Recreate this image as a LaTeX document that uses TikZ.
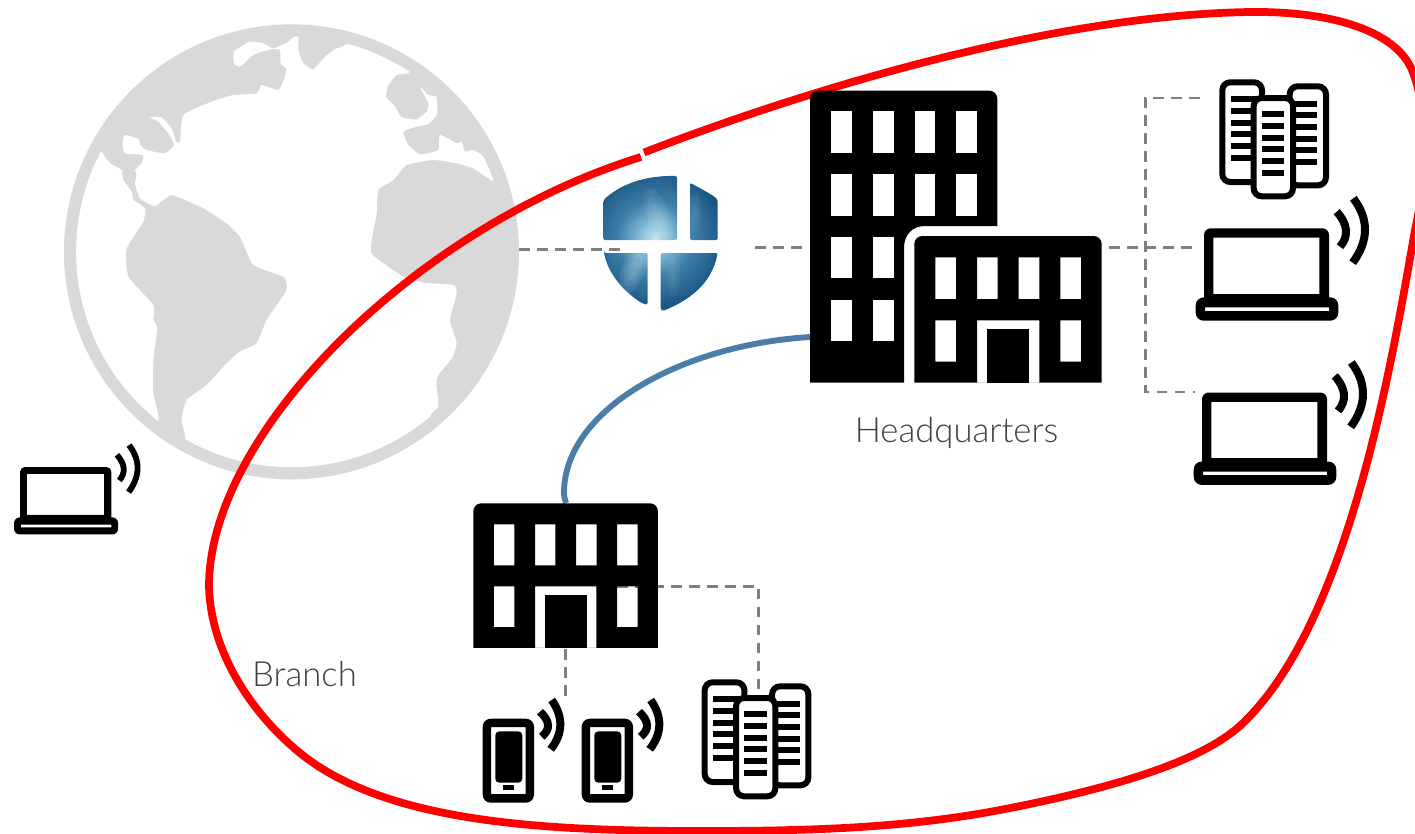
\documentclass[tikz,border=0pt]{standalone}
\usepackage{fontspec}
\setmainfont{Carlito}
\newfontfamily\lightfont{Lato Light}
\definecolor{globegray}{HTML}{D9D9D9}
\definecolor{dashgray}{HTML}{7F7F7F}
\definecolor{linkblue}{HTML}{4A7EA8}
\definecolor{labelgray}{HTML}{404040}
\definecolor{sA}{HTML}{C7E6EF}
\definecolor{sB}{HTML}{8FC4DC}
\definecolor{sC}{HTML}{3D7FA8}
\definecolor{sD}{HTML}{1A5685}
\definecolor{sE}{HTML}{103F66}
\definecolor{sF}{HTML}{0A2A48}
\pgfdeclareradialshading{shieldglow}{\pgfpointorigin}{%
 color(0bp)=(sA); color(4bp)=(sB); color(12bp)=(sC); color(22bp)=(sD); color(35bp)=(sE); color(50bp)=(sF)}
\tikzset{
  x=.75pt,y=-.75pt,
  iconbox/.style={inner sep=0pt,outer sep=0pt,rectangle},
  dashlink/.style={draw=dashgray,line width=2.1pt,dash pattern=on 8pt off 5.5pt},
  vpnlink/.style={draw=linkblue,line width=4.4pt},
  boundary/.style={draw=red,line width=5.8pt},
  sitelabel/.style={inner sep=0pt,text=labelgray,font=\lightfont\fontsize{26}{30}\selectfont}
}
% small building: 187.4 x 146.7
\newcommand{\lowbuilding}[3]{%
\begin{scope}[shift={(#1,#2)},x=#3*.75pt,y=-#3*.75pt]
 \fill[black,even odd rule] (0,60) [rounded corners=#3*6pt] -- (0,0) -- (187.4,0) -- (187.4,60) [sharp corners] -- (187.4,146.7) -- (0,146.7) -- cycle
  (21,21.3) rectangle +(20.7,41.7) (62.7,21.3) rectangle +(20.7,41.7) (104.4,21.3) rectangle +(20.7,41.7) (146,21.3) rectangle +(20.7,41.7)
  (21,84.3) rectangle +(20.7,41.4) (146,84.3) rectangle +(20.7,41.4)
  (62.7,84.3) rectangle (125,146.7);
 \fill[black] (72.7,93.3) rectangle (115,146.7);
\end{scope}}
% laptop with waves
\newcommand{\laptopicon}[3]{%
\begin{scope}[shift={(#1,#2)},x=#3*.75pt,y=-#3*.75pt]
 \fill[black,even odd rule,rounded corners=#3*5pt] (8.3,0) rectangle (133.3,75)
   [sharp corners] (17.6,9.4) rectangle (123.6,65.7);
 \fill[black,even odd rule] [rounded corners=#3*6pt] (0,69) rectangle (142.6,92.4)
   [sharp corners] (9.3,79) rectangle (133.3,82.7);
 \draw[black,line width=#3*6pt] (141,-16.6) .. controls (152.3,-3.9) and (153.4,7.8) .. (144.3,18.4);
 \draw[black,line width=#3*6pt] (157.6,-30) .. controls (173.4,-9.2) and (173.2,12.3) .. (157,34.4);
\end{scope}}
% server group: 109.7 x 120
\newcommand{\servericon}[2]{%
\begin{scope}[shift={(#1,#2)}]
 \tikzset{rack/.style={draw=black,fill=white,line width=4.5pt,rounded corners=6pt}}
 \draw[rack] (3,3) rectangle (42.7,102.7);
 \draw[rack] (70.4,7) rectangle (106.7,106);
 \foreach \yy in {20,31.7,43.4,55,66.7,78.4} \fill[black] (11.7,\yy-2.9) rectangle (40,\yy+2.9);
 \foreach \yy in {24.4,36,47.7,59.4,71,82.7} \fill[black] (70,\yy-2.9) rectangle (98,\yy+2.9);
 \draw[rack] (34.4,18.7) rectangle (73.7,117);
 \foreach \yy in {35,46.7,58.4,70,81.7,93.4} \fill[black] (42.4,\yy-2.9) rectangle (65,\yy+2.9);
\end{scope}}
% phone with waves
\newcommand{\phoneicon}[2]{%
\begin{scope}[shift={(#1,#2)}]
 \fill[black,even odd rule,rounded corners=6pt] (0,0) rectangle (51.3,84)
   [rounded corners=0pt] (8.3,8.3) rectangle (43,75.3);
 \fill[black,rounded corners=3pt] (12.6,12.6) rectangle (39.6,64);
 \fill[black] (20.6,66.6) rectangle (31.3,71.6);
 \draw[black,line width=6pt] (57.3,-7) .. controls (67.4,2.3) and (68,10.7) .. (59,18);
 \draw[black,line width=6pt] (69,-18.7) .. controls (80.8,-1.8) and (80.5,14.6) .. (68,30.6);
\end{scope}}
\begin{document}
\begin{tikzpicture}
\useasboundingbox (0,0) rectangle (1415,833);
\clip (0,0) rectangle (1415,833);

% --- named placeholders for the pictured objects
\node[iconbox,minimum width=341.25pt,minimum height=341.25pt] (globe) at (291.5,251.8) {};
\node[iconbox,minimum width=87pt,minimum height=103pt] (shield) at (660,244) {};
\node[iconbox,minimum width=218.8pt,minimum height=219pt] (hq) at (955.85,236.7) {};
\node[iconbox,minimum width=138.75pt,minimum height=107.8pt] (branch) at (565.8,575.2) {};
\node[iconbox,minimum width=82.3pt,minimum height=90pt] (srvA) at (1274.2,139.3) {};
\node[iconbox,minimum width=82pt,minimum height=90.5pt] (srvB) at (756.4,739.7) {};
\node[iconbox,minimum width=107pt,minimum height=69.3pt] (lapA) at (1267,274.5) {};
\node[iconbox,minimum width=107pt,minimum height=69.3pt] (lapB) at (1265,439) {};
\coordinate (fwl) at (622,249.5);
\coordinate (fwr) at (755,247.7);
\coordinate (hqw) at (803,247.7);
\coordinate (hqe) at (1109,247.7);
\coordinate (busTop) at (1145.3,98);
\coordinate (busBot) at (1145.3,392);
\coordinate (srvAin) at (1200,98);
\coordinate (lapAin) at (1195,247.7);
\coordinate (lapBin) at (1195,392);
\coordinate (brE) at (617,586.3);
\coordinate (brCorner) at (758.5,586.3);
\coordinate (srvBin) at (758.5,692);
\coordinate (brS) at (565.3,649);
\coordinate (phoneIn) at (565.3,698);
\coordinate (hqVpn) at (810,337);
\coordinate (brVpn) at (566,503);

% --- globe
\begin{scope}[shift={(40,0)},x=.25pt,y=-.25pt]
 \fill[globegray] (754.5,755.5) circle (682.5);
 \begin{scope}
  \clip (754.5,755.5) circle (646);
  \fill[white] plot[smooth cycle,tension=.3] coordinates {
   (775,100) (775,150) (790,190) (820,208) (850,175) (880,150) (920,133) (1000,90) (1130,180) (1105,219)
   (1070,225) (1045,255) (1038,290) (1065,320) (1085,352) (1130,358) (1160,335) (1165,310) (1140,260)
   (1165,285) (1188,290) (1192,340) (1165,372) (1130,380) (1090,395) (1105,435) (1140,463) (1195,450)
   (1200,405) (1250,430) (1265,425) (1275,455) (1300,450) (1330,470) (1360,543) (1300,505) (1250,490)
   (1180,480) (1100,495) (1060,540) (1015,570) (1010,640) (995,720) (997,765) (1090,830) (1150,848)
   (1240,855) (1250,880) (1230,960) (1250,1030) (1235,1075) (1190,1135) (1195,1220) (1170,1255)
   (1250,1400) (754,1500) (400,1400) (435,1315) (425,1260) (440,1200) (500,1155) (560,1090) (600,1055)
   (650,1030) (680,960) (740,870) (730,830) (640,795) (600,710) (560,670) (490,625) (395,585) (345,618)
   (300,595) (285,550) (290,525) (285,510) (305,490) (308,465) (255,460) (248,430) (255,405) (297,418)
   (300,435) (320,450) (375,460) (402,435) (385,400) (355,365) (330,352) (365,352) (395,385) (408,425)
   (420,425) (430,345) (515,305) (530,300) (580,285) (650,280) (665,255) (715,270) (735,230) (738,205)
   (722,190) (720,150) (690,148) (640,165) (600,200) (582,190) (582,155) (630,125) (670,130) (700,145)
   (745,125)};
  \fill[white] plot[smooth cycle,tension=.3] coordinates {
   (185,455) (210,490) (245,510) (250,540) (275,575) (280,600) (315,625) (310,665) (260,745) (265,830)
   (340,915) (340,960) (352,985) (340,1080) (340,1180) (355,1260) (300,1340) (40,1000) (40,500) (150,400)};
 \end{scope}
\end{scope}

% --- connectors
\draw[dashlink] (globe.east|-fwl) -- (fwl);
\draw[dashlink] (fwr) -- (hqw);
\draw[dashlink] (hqe) -- (lapAin);
\draw[dashlink] (srvAin) -- (busTop) -- (busBot) -- (lapBin);
\draw[dashlink] (brE) -- (brCorner) -- (srvBin);
\draw[dashlink] (brS) -- (phoneIn);
\draw[vpnlink] (hqVpn) .. controls (680,345) and (565,410) .. (564,492) .. controls (564,497) and (565,500) .. (brVpn);

% --- boundary
\draw[boundary] (644,152.5) .. controls (800,92) and (1050,15) .. (1250,12)
  .. controls (1330,11) and (1395,30) .. (1412,70)
  .. controls (1428,110) and (1428,170) .. (1415,230)
  .. controls (1392,360) and (1350,620) .. (1243,723)
  .. controls (1208,757) and (1130,785) .. (1000,810)
  .. controls (900,829) and (800,831) .. (700,831)
  .. controls (540,831) and (385,822) .. (300,753)
  .. controls (250,712) and (210,650) .. (209,585)
  .. controls (210,430) and (420,225) .. (641,157);

% --- shield
\begin{scope}[shift={(580,160)},x=.25pt,y=-.25pt]
 \begin{scope}
  \clip[rounded corners=1.5pt]
   (70,120) .. controls (120,75) and (190,46) .. (291,48) -- (291,240) -- (70,240) -- cycle
   (330,68) .. controls (360,85) and (390,100) .. (413,118) -- (413,240) -- (330,240) -- cycle
   (72,279) -- (203,279) -- (203,434) -- (190,432) .. controls (130,395) and (85,340) .. (72,279) -- cycle
   (242,279) -- (413,279) .. controls (395,370) and (330,420) .. (248,453) -- (242,450) -- cycle;
  \shade[shading=shieldglow] (225,235) circle (235);
  \foreach \rr in {14,24,34}
   \fill[white,opacity=.09,rotate around={-20:(160,330)}] (160,330) ellipse ({\rr} and {2.2*\rr});
  \foreach \rr in {14,24,34}
   \fill[white,opacity=.06,rotate around={20:(235,170)}] (235,170) ellipse ({\rr} and {2.6*\rr});
  \foreach \rr in {10,20}
   \fill[white,opacity=.05] (280,350) ellipse ({\rr} and {3*\rr});
  \foreach \rr in {10,20}
   \fill[white,opacity=.05] (345,160) ellipse ({\rr} and {3*\rr});
 \end{scope}
\end{scope}

% --- headquarters
\fill[black] (810,200) [rounded corners=6pt] -- (810,90.7) -- (997.3,90.7) -- (997.3,150) [sharp corners]
  -- (997.3,226) -- (925,226) .. controls (912,226) and (904,235) .. (904,248) -- (904,382.7) -- (810,382.7) -- cycle;
\foreach \xx in {831.3,873,914.7,956.3} \foreach \yy in {111.3,174.3} \fill[white] (\xx,\yy) rectangle +(20.7,41.4);
\foreach \xx in {831.3,873} \foreach \yy in {237,299.7} \fill[white] (\xx,\yy) rectangle +(20.7,41.4);
\lowbuilding{914.3}{236}{1}
\node[sitelabel] (hqlabel) at (956.5,433) {Headquarters};

% --- branch
\lowbuilding{473.3}{503.3}{.985}
\node[sitelabel] (brlabel) at (304.5,674) {Branch};

% --- devices
\servericon{1219.3}{79.3}
\servericon{701.7}{679.3}
\laptopicon{1195.7}{228.3}{1}
\laptopicon{1193.7}{392.5}{1}
\laptopicon{14}{467}{.73}
\phoneicon{482.7}{718.7}
\phoneicon{581.7}{718.7}
\end{tikzpicture}
\end{document}
